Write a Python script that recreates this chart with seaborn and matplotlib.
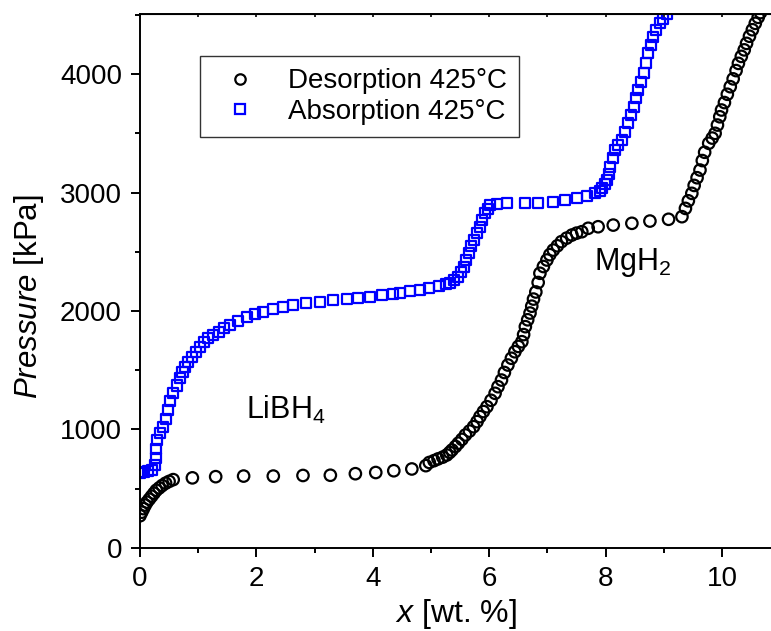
import matplotlib
matplotlib.use("Agg")
import matplotlib.pyplot as plt
import seaborn as sns
import pandas as pd
from matplotlib.ticker import MultipleLocator
from matplotlib.lines import Line2D

# ---- data ----
des_x = [0.00, 0.03, 0.06, 0.09, 0.12, 0.16, 0.20, 0.24, 0.28, 0.33, 0.38, 0.44, 0.50, 0.57,
         0.90, 1.30, 1.78, 2.29, 2.80, 3.27, 3.70, 4.05, 4.36, 4.67, 4.91, 4.97, 5.05, 5.12,
         5.20, 5.27, 5.32, 5.36, 5.42, 5.47, 5.53, 5.59, 5.66, 5.73, 5.79, 5.84, 5.90, 5.96,
         6.03, 6.10, 6.15, 6.21, 6.26, 6.32, 6.38, 6.44, 6.50, 6.56, 6.59, 6.62, 6.66, 6.70,
         6.73, 6.76, 6.80, 6.84, 6.87, 6.93, 6.99, 7.04, 7.10, 7.17, 7.24, 7.33, 7.42, 7.50,
         7.59, 7.70, 7.87, 8.13, 8.45, 8.76, 9.08, 9.31, 9.37, 9.42, 9.48, 9.52, 9.57, 9.62,
         9.66, 9.70, 9.77, 9.83, 9.88, 9.92, 9.96, 9.99, 10.04, 10.09, 10.14, 10.19, 10.24,
         10.28, 10.33, 10.38, 10.42, 10.47, 10.52, 10.57, 10.62, 10.66]
des_p = [270, 300, 330, 360, 385, 410, 435, 460, 485, 505, 525, 545, 560, 575,
         590, 600, 605, 605, 610, 612, 625, 635, 650, 665, 693, 720, 735, 750,
         765, 783, 805, 825, 855, 883, 915, 952, 985, 1022, 1065, 1107, 1150, 1191,
         1245, 1304, 1360, 1416, 1480, 1543, 1600, 1655, 1700, 1740, 1800, 1867, 1925, 1982,
         2040, 2100, 2160, 2240, 2318, 2375, 2430, 2475, 2514, 2550, 2585, 2615, 2641, 2657,
         2669, 2698, 2711, 2725, 2740, 2759, 2774, 2796, 2866, 2930, 2993, 3060, 3125, 3190,
         3270, 3340, 3416, 3460, 3500, 3570, 3640, 3697, 3760, 3830, 3894, 3960, 4030,
         4091, 4150, 4205, 4260, 4320, 4375, 4429, 4480, 4520]

abs_x = [0.00, 0.06, 0.13, 0.20, 0.25, 0.27, 0.28, 0.29, 0.34, 0.40, 0.44, 0.48, 0.52, 0.57,
         0.63, 0.69, 0.73, 0.77, 0.83, 0.89, 0.96, 1.03, 1.10, 1.17, 1.26, 1.35, 1.45, 1.55,
         1.69, 1.83, 1.97, 2.12, 2.29, 2.46, 2.63, 2.86, 3.09, 3.32, 3.55, 3.75, 3.95, 4.15,
         4.35, 4.47, 4.64, 4.81, 4.97, 5.13, 5.25, 5.33, 5.40, 5.47, 5.52, 5.56, 5.60, 5.65,
         5.69, 5.73, 5.79, 5.84, 5.88, 5.93, 5.97, 6.01, 6.13, 6.30, 6.62, 6.84, 7.10, 7.30,
         7.50, 7.68, 7.82, 7.90, 7.94, 7.98, 8.02, 8.05, 8.08, 8.12, 8.16, 8.22, 8.28, 8.34,
         8.39, 8.44, 8.48, 8.52, 8.56, 8.61, 8.65, 8.69, 8.73, 8.78, 8.82, 8.87, 8.93, 8.99,
         9.05]
abs_p = [630, 642, 648, 656, 700, 760, 830, 910, 965, 1022, 1090, 1163, 1235, 1304,
         1370, 1431, 1480, 1529, 1570, 1613, 1655, 1698, 1735, 1768, 1797, 1824, 1853, 1881,
         1916, 1951, 1975, 1993, 2015, 2035, 2050, 2065, 2078, 2090, 2100, 2110, 2120, 2132,
         2140, 2154, 2165, 2176, 2192, 2210, 2225, 2238, 2260, 2289, 2330, 2373, 2430, 2486,
         2545, 2599, 2655, 2711, 2770, 2824, 2860, 2894, 2903, 2909, 2914, 2914, 2922, 2937,
         2951, 2970, 2993, 3015, 3035, 3070, 3106, 3160, 3218, 3290, 3359, 3400, 3443, 3515,
         3584, 3655, 3725, 3795, 3866, 3935, 4006, 4090, 4176, 4245, 4316, 4370, 4429, 4470,
         4510]

series_labels = ["Desorption 425\u00b0C", "Absorption 425\u00b0C"]
x_ticks = [0, 2, 4, 6, 8, 10]
y_ticks = [0, 1000, 2000, 3000, 4000]

des = pd.DataFrame({"x": des_x, "p": des_p})
ab = pd.DataFrame({"x": abs_x, "p": abs_p})

sns.set_style("ticks")
plt.rcParams["font.family"] = ["Liberation Sans", "DejaVu Sans"]
plt.rcParams["mathtext.fontset"] = "custom"
plt.rcParams["mathtext.rm"] = "Liberation Sans"
plt.rcParams["mathtext.it"] = "Liberation Sans:italic"
for k in ["text.color", "axes.labelcolor", "xtick.color", "ytick.color", "axes.edgecolor"]:
    plt.rcParams[k] = "black"

BLUE = "#0000ff"

fig = plt.figure(figsize=(7.71, 6.31), dpi=100)
ax = fig.add_axes([140 / 771, (631 - 547.7) / 631, 1 - 140 / 771, (547.7 - 14) / 631])

sns.scatterplot(data=des, x="x", y="p", ax=ax, marker="o", s=68,
                facecolors="none", edgecolor="black", linewidth=1.6, zorder=3)
sns.scatterplot(data=ab, x="x", y="p", ax=ax, marker="s", s=52,
                facecolors="none", edgecolor=BLUE, linewidth=1.6, zorder=2)

ax.set_xlim(0, 10.84)
ax.set_ylim(0, 4508)
ax.set_xticks(x_ticks)
ax.set_yticks(y_ticks)
ax.xaxis.set_minor_locator(MultipleLocator(1))
ax.yaxis.set_minor_locator(MultipleLocator(500))
ax.tick_params(axis="both", which="major", labelsize=20, length=6.5, width=1.4,
               direction="out", pad=6.5)
ax.tick_params(axis="both", which="minor", length=3.5, width=1.4, direction="out")
for s in ["left", "bottom", "top"]:
    ax.spines[s].set_linewidth(1.4)
ax.spines["right"].set_visible(False)

secx = ax.secondary_xaxis("top")
secx.set_xticks(list(range(0, 11)))
secx.tick_params(axis="x", direction="in", length=2.5, width=1.2, labeltop=False)

ax.set_xlabel("$x$ [wt. %]", fontsize=23, labelpad=3.5)
ax.set_ylabel("$Pressure$ [kPa]", fontsize=22.5)
ax.yaxis.set_label_coords(-0.149, 0.47)

ax.text(2.50, 1160, "LiBH$_4$", fontsize=22, ha="center", va="center")
ax.text(8.47, 2410, "MgH$_2$", fontsize=22, ha="center", va="center")

handles = [
    Line2D([], [], linestyle="none", marker="o", markersize=7.5, markerfacecolor="none",
           markeredgecolor="black", markeredgewidth=1.6),
    Line2D([], [], linestyle="none", marker="s", markersize=6.8, markerfacecolor="none",
           markeredgecolor=BLUE, markeredgewidth=1.6),
]
leg = ax.legend(handles, series_labels, loc="upper left",
                bbox_to_anchor=((200 - 140) / 631, (547.7 - 56) / 533.7),
                borderaxespad=0, fontsize=20, frameon=True, fancybox=False,
                edgecolor="#333333", framealpha=1, handletextpad=0.7, borderpad=0.45,
                labelspacing=0.15, handlelength=2.0)
leg.get_frame().set_linewidth(1.0)

fig.savefig("out.png", dpi=100)
